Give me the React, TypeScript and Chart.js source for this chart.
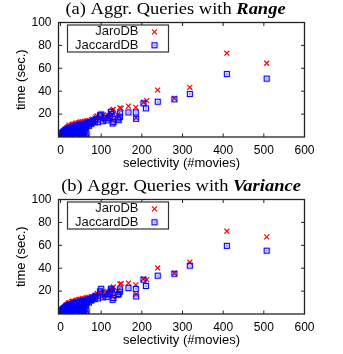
import React, { useEffect, useRef } from 'react';
import { Chart, registerables } from 'chart.js';
Chart.register(...registerables);

const X_TICKS = [0, 100, 200, 300, 400, 500, 600];
const Y_TICKS = [20, 40, 60, 80, 100];
const SERIES_NAMES = ['JaroDB', 'JaccardDB'];
const X_TITLE = 'selectivity (#movies)';
const Y_TITLE = 'time (sec.)';
const TITLE_A = ['(a) Aggr. Queries with ', 'Range'];
const TITLE_B = ['(b) Aggr. Queries with ', 'Variance'];

// (a) Range
const jaroRange: number[][] = [
  [507, 64.4], [409, 73.2], [318, 43.4], [280, 33.7], [239, 41.0], [212, 31.8], [204, 30.2], [185, 25.9], [186, 16.8],
  [167, 27.0], [146, 25.5], [149, 25.0], [127, 23.5], [130, 24.2], [122, 21.5], [108, 15.6], [97, 17.6], [90, 18.4],
  [87, 17.6], [79, 15.6], [104, 18.8], [115, 19.2], [140, 19.5], [128, 14.6], [119, 17.0], [100, 14.8],
  [0, 0.4], [1, 1.6], [2, 0.8], [3, 2.6], [4, 1.2], [5, 3.6], [6, 2.0], [7, 4.6], [8, 0.6], [9, 5.4], [10, 3.0],
  [11, 6.2], [12, 1.4], [13, 7.0], [14, 4.4], [15, 7.8], [16, 2.4], [17, 8.4], [18, 5.6], [19, 9.0], [20, 3.4],
  [21, 10.3], [22, 6.6], [23, 1.2], [24, 9.4], [25, 7.8], [26, 4.8], [27, 10.6], [28, 2.2], [29, 8.8], [30, 11.0],
  [31, 6.0], [32, 3.6], [33, 11.2], [34, 9.6], [35, 0.6], [36, 7.4], [37, 11.8], [38, 5.0], [39, 10.4], [40, 12.0],
  [41, 2.8], [42, 8.6], [43, 0.5], [44, 12.4], [45, 10.8], [46, 6.4], [47, 12.8], [48, 3.8], [49, 9.8], [50, 13.2],
  [51, 0.7], [52, 11.4], [53, 7.8], [54, 13.4], [55, 4.4], [56, 12.2], [57, 9.4], [58, 1.0], [59, 13.6], [60, 11.0],
  [61, 6.8], [62, 0.6], [63, 13.8], [64, 10.6], [66, 14.0], [68, 12.6], [70, 14.6], [73, 13.2], [76, 15.0], [82, 14.4],
];
const jaccardRange: number[][] = [
  [507, 51.0], [409, 55.0], [318, 37.5], [280, 32.9], [239, 30.8], [210, 25.0], [204, 29.4], [185, 21.5], [186, 15.9],
  [167, 21.5], [146, 20.6], [146, 17.6], [143, 14.7], [141, 16.2], [124, 22.0], [126, 20.0], [130, 13.2], [128, 11.8],
  [122, 18.5], [100, 19.7], [86, 15.6], [97, 19.0], [85, 14.7], [75, 11.8], [110, 16.5], [113, 14.5], [104, 13.8],
  [118, 16.8], [92, 13.0], [62, 8.9], [52, 3.0], [64, 2.2],
  [0, 0.2], [0, 1.2], [1, 0.5], [1, 2.4], [2, 1.0], [2, 3.2], [3, 0.3], [3, 1.8], [4, 2.8], [5, 0.8], [5, 4.0],
  [6, 1.6], [7, 3.4], [8, 0.4], [8, 5.0], [9, 2.2], [10, 4.4], [11, 1.0], [12, 5.8], [12, 3.0], [13, 0.6], [14, 6.4],
  [15, 4.0], [16, 1.8], [17, 7.0], [18, 3.2], [19, 5.4], [20, 0.8], [21, 7.6], [22, 4.6], [23, 2.4], [24, 8.0],
  [25, 6.0], [26, 3.4], [27, 1.2], [28, 8.6], [29, 5.2], [30, 7.2], [31, 2.8], [32, 9.0], [33, 4.2], [34, 6.6],
  [35, 0.5], [36, 9.4], [37, 7.8], [38, 3.6], [39, 5.8], [40, 9.8], [41, 1.8], [42, 8.2], [43, 0.4], [44, 6.8],
  [45, 10.2], [46, 4.6], [47, 8.8], [48, 2.6], [49, 10.6], [50, 0.6], [51, 7.4], [52, 9.6], [53, 5.4], [54, 11.0],
  [55, 3.2], [56, 8.4], [57, 10.4], [58, 0.8], [59, 6.2], [60, 11.4], [61, 9.2], [62, 0.5], [63, 7.6], [64, 11.8],
  [66, 10.2], [68, 12.4], [70, 9.8], [73, 13.0], [76, 11.6], [80, 14.0], [84, 12.8],
];

// (b) Variance
const jaroVariance: number[][] = [
  [507, 67.4], [409, 72.3], [318, 45.2], [280, 35.6], [239, 40.2], [212, 30.0], [204, 30.6], [185, 25.4], [186, 17.2],
  [167, 27.0], [146, 26.1], [149, 26.6], [127, 22.6], [130, 23.6], [122, 21.0], [108, 16.0], [97, 18.2], [90, 18.0],
  [87, 15.9], [79, 15.0], [104, 19.4], [115, 19.8], [140, 20.2], [128, 15.2], [119, 17.6], [100, 15.2],
  [0, 0.5], [1, 1.4], [2, 0.9], [3, 2.8], [4, 1.0], [5, 3.8], [6, 2.2], [7, 4.4], [8, 0.7], [9, 5.6], [10, 3.2],
  [11, 6.0], [12, 1.5], [13, 7.2], [14, 4.2], [15, 8.0], [16, 2.6], [17, 8.2], [18, 5.8], [19, 9.2], [20, 3.2],
  [21, 10.0], [22, 6.8], [23, 1.4], [24, 9.6], [25, 7.6], [26, 5.0], [27, 10.8], [28, 2.0], [29, 9.0], [30, 11.2],
  [31, 6.2], [32, 3.4], [33, 11.0], [34, 9.8], [35, 0.7], [36, 7.6], [37, 11.6], [38, 5.2], [39, 10.6], [40, 12.2],
  [41, 2.6], [42, 8.8], [43, 0.6], [44, 12.6], [45, 11.0], [46, 6.6], [47, 12.6], [48, 4.0], [49, 10.0], [50, 13.0],
  [51, 0.8], [52, 11.6], [53, 8.0], [54, 13.6], [55, 4.6], [56, 12.4], [57, 9.6], [58, 1.1], [59, 13.4], [60, 11.2],
  [61, 7.0], [62, 0.7], [63, 14.0], [64, 10.8], [66, 14.2], [68, 12.8], [70, 14.8], [73, 13.4], [76, 15.2], [82, 14.6],
];
const jaccardVariance: number[][] = [
  [507, 55.3], [409, 59.5], [318, 42.2], [280, 35.2], [239, 33.5], [210, 24.5], [204, 30.0], [185, 21.9], [186, 15.3],
  [167, 22.6], [146, 21.5], [146, 19.5], [143, 17.5], [141, 16.8], [124, 22.0], [126, 20.6], [130, 14.0], [128, 12.4],
  [122, 19.0], [100, 22.0], [86, 16.0], [97, 19.8], [85, 15.2], [75, 12.2], [110, 17.2], [113, 15.0], [104, 14.6],
  [118, 17.4], [92, 13.6], [62, 9.2], [52, 3.2], [64, 2.4],
  [0, 0.3], [0, 1.4], [1, 0.6], [1, 2.6], [2, 1.1], [2, 3.4], [3, 0.4], [3, 2.0], [4, 3.0], [5, 0.9], [5, 4.2],
  [6, 1.7], [7, 3.6], [8, 0.5], [8, 5.2], [9, 2.4], [10, 4.6], [11, 1.1], [12, 6.0], [12, 3.2], [13, 0.7], [14, 6.6],
  [15, 4.2], [16, 1.9], [17, 7.2], [18, 3.4], [19, 5.6], [20, 0.9], [21, 7.8], [22, 4.8], [23, 2.6], [24, 8.2],
  [25, 6.2], [26, 3.6], [27, 1.3], [28, 8.8], [29, 5.4], [30, 7.4], [31, 3.0], [32, 9.2], [33, 4.4], [34, 6.8],
  [35, 0.6], [36, 9.6], [37, 8.0], [38, 3.8], [39, 6.0], [40, 10.0], [41, 2.0], [42, 8.4], [43, 0.5], [44, 7.0],
  [45, 10.4], [46, 4.8], [47, 9.0], [48, 2.8], [49, 10.8], [50, 0.7], [51, 7.6], [52, 9.8], [53, 5.6], [54, 11.2],
  [55, 3.4], [56, 8.6], [57, 10.6], [58, 0.9], [59, 6.4], [60, 11.6], [61, 9.4], [62, 0.6], [63, 7.8], [64, 12.0],
  [66, 10.4], [68, 12.6], [70, 10.0], [73, 13.2], [76, 11.8], [80, 14.2], [84, 13.0],
];

const RED = 'rgb(255,0,0)';
const BLUE = 'rgb(0,0,255)';
const SANS = "'Liberation Sans', Arial, sans-serif";
const SERIF = "'Liberation Serif', 'Times New Roman', serif";

function makeSquare(): HTMLCanvasElement {
  const c = document.createElement('canvas');
  c.width = 8;
  c.height = 8;
  const g = c.getContext('2d')!;
  g.strokeStyle = BLUE;
  g.lineWidth = 1.2;
  g.strokeRect(1.5, 1.5, 5, 5);
  g.fillStyle = BLUE;
  g.fillRect(3.25, 3.5, 1.5, 1);
  return c;
}

function drawCross(ctx: CanvasRenderingContext2D, x: number, y: number) {
  const h = 2.5;
  ctx.save();
  ctx.strokeStyle = RED;
  ctx.lineWidth = 1.2;
  ctx.beginPath();
  ctx.moveTo(x - h, y - h);
  ctx.lineTo(x + h, y + h);
  ctx.moveTo(x - h, y + h);
  ctx.lineTo(x + h, y - h);
  ctx.stroke();
  ctx.restore();
}

function makeDecor(title: string[], titleCx: number, square: HTMLCanvasElement) {
  return {
    id: 'decor',
    afterDraw(chart: any) {
      const ctx: CanvasRenderingContext2D = chart.ctx;
      const { left, right, top, bottom } = chart.chartArea;
      const xs = chart.scales.x;
      const ys = chart.scales.y;
      ctx.save();
      // frame
      ctx.strokeStyle = '#222';
      ctx.lineWidth = 1.3;
      ctx.strokeRect(left, top, right - left, bottom - top);
      // inward ticks on all sides
      ctx.lineWidth = 1;
      ctx.beginPath();
      X_TICKS.forEach((v) => {
        const px = xs.getPixelForValue(v);
        if (px <= left + 1 || px >= right - 1) return;
        ctx.moveTo(px, bottom);
        ctx.lineTo(px, bottom - 3.5);
        ctx.moveTo(px, top);
        ctx.lineTo(px, top + 3.5);
      });
      Y_TICKS.forEach((v) => {
        const py = ys.getPixelForValue(v);
        if (py <= top + 1 || py >= bottom - 1) return;
        ctx.moveTo(left, py);
        ctx.lineTo(left + 3.5, py);
        ctx.moveTo(right, py);
        ctx.lineTo(right - 3.5, py);
      });
      ctx.stroke();
      // legend
      const lx = left + 9;
      const ly = top + 2.5;
      ctx.fillStyle = '#fff';
      ctx.fillRect(lx, ly, 101, 27);
      ctx.strokeStyle = '#333';
      ctx.lineWidth = 1.2;
      ctx.strokeRect(lx, ly, 101, 27);
      ctx.fillStyle = '#111';
      ctx.font = `13px ${SANS}`;
      ctx.textAlign = 'right';
      ctx.textBaseline = 'middle';
      const r1 = ly + 6.8;
      const r2 = ly + 20.3;
      ctx.fillText(SERIES_NAMES[0], lx + 71, r1);
      ctx.fillText(SERIES_NAMES[1], lx + 71, r2);
      drawCross(ctx, lx + 87, r1);
      ctx.drawImage(square, lx + 87 - 4, r2 - 4);
      // title
      ctx.fillStyle = '#000';
      ctx.textAlign = 'left';
      ctx.textBaseline = 'alphabetic';
      const f1 = `16.5px ${SERIF}`;
      const f2 = `italic bold 16.5px ${SERIF}`;
      ctx.font = f1;
      const w1 = ctx.measureText(title[0]).width;
      ctx.font = f2;
      const w2 = ctx.measureText(title[1]).width;
      const sx = 1.12;
      const total = (w1 + w2) * sx;
      ctx.translate(titleCx - total / 2, 13.5);
      ctx.scale(sx, 1);
      ctx.font = f1;
      ctx.fillText(title[0], 0, 0);
      ctx.font = f2;
      ctx.fillText(title[1], w1, 0);
      ctx.restore();
    },
  };
}

function ScatterPanel(props: { jaro: number[][]; jaccard: number[][]; title: string[]; titleCx: number }) {
  const ref = useRef<HTMLCanvasElement | null>(null);
  useEffect(() => {
    const canvas = ref.current;
    if (!canvas) return;
    const square = makeSquare();
    const tickFont = { family: SANS, size: 12 };
    const titleFont = { family: SANS, size: 13 };
    const chart = new Chart(canvas, {
      type: 'scatter',
      data: {
        datasets: [
          {
            label: SERIES_NAMES[0],
            data: props.jaro.map(([x, y]) => ({ x, y })),
            pointStyle: 'crossRot',
            pointRadius: 3.5,
            pointHoverRadius: 3.5,
            borderColor: RED,
            backgroundColor: RED,
            borderWidth: 1.2,
            order: 1,
          },
          {
            label: SERIES_NAMES[1],
            data: props.jaccard.map(([x, y]) => ({ x, y })),
            pointStyle: square as any,
            pointRadius: 4,
            pointHoverRadius: 4,
            borderColor: BLUE,
            backgroundColor: BLUE,
            order: 0,
          },
        ],
      },
      options: {
        animation: false,
        responsive: false,
        maintainAspectRatio: false,
        events: [],
        layout: { padding: { left: 0, right: 38.5, top: 22.5, bottom: 0 } },
        plugins: {
          legend: { display: false },
          tooltip: { enabled: false },
          title: { display: false },
        },
        scales: {
          x: {
            type: 'linear',
            min: -5,
            max: 600,
            afterBuildTicks: (s: any) => {
              s.ticks = X_TICKS.map((v) => ({ value: v }));
            },
            afterFit: (s: any) => {
              s.height = 40;
            },
            grid: { display: false, drawTicks: false },
            border: { display: false },
            ticks: { color: '#000', font: tickFont, padding: 6, maxRotation: 0, autoSkip: false },
            title: { display: true, text: X_TITLE, color: '#000', font: titleFont, padding: { top: 0, bottom: 6 } },
          },
          y: {
            type: 'linear',
            min: 0,
            max: 100,
            afterBuildTicks: (s: any) => {
              s.ticks = Y_TICKS.map((v) => ({ value: v }));
            },
            afterFit: (s: any) => {
              s.width = 58.5;
            },
            grid: { display: false, drawTicks: false },
            border: { display: false },
            ticks: { color: '#000', font: tickFont, padding: 7 },
            title: { display: true, text: Y_TITLE, color: '#000', font: titleFont, padding: { top: 14, bottom: 0 } },
          },
        },
      },
      plugins: [makeDecor(props.title, props.titleCx, square)],
    } as any);
    return () => chart.destroy();
  }, []);
  return <canvas ref={ref} width={343} height={177} style={{ display: 'block', width: 343, height: 177 }} />;
}

export default function App() {
  return (
    <div style={{ position: 'absolute', left: 0, top: 0, width: 343, height: 354, background: '#fff' }}>
      <ScatterPanel jaro={jaroRange} jaccard={jaccardRange} title={TITLE_A} titleCx={175.5} />
      <ScatterPanel jaro={jaroVariance} jaccard={jaccardVariance} title={TITLE_B} titleCx={181} />
    </div>
  );
}
